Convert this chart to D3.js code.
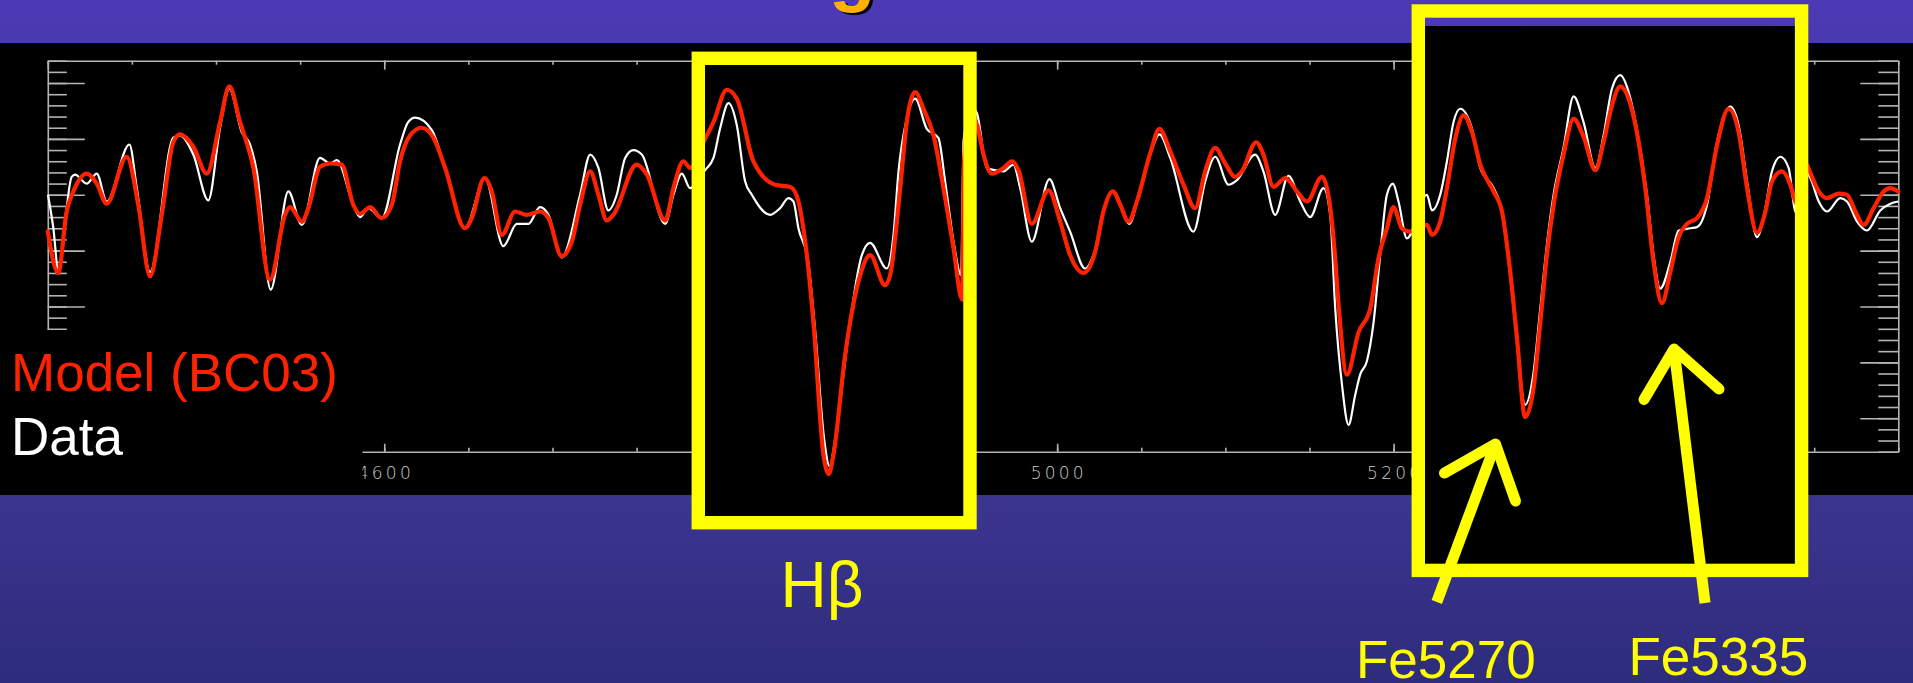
<!DOCTYPE html>
<html>
<head>
<meta charset="utf-8">
<script src="https://cdn.jsdelivr.net/npm/d3@7"></script>
<style>
  html, body { margin: 0; padding: 0; background: #2f2d7f; overflow: hidden; }
  svg { display: block; }
</style>
</head>
<body>
<svg id="slide" width="1913" height="683"></svg>
<script>
// Model spectrum (BC03): rest wavelength (Å) and normalised flux
const modelWave = [4400.0,4406.2,4411.2,4415.2,4423.1,4429.1,4435.0,4446.9,4453.8,4460.8,
  4467.7,4474.6,4478.6,4486.5,4494.5,4502.4,4507.9,4514.3,4522.2,4532.1,
  4541.0,4544.0,4551.0,4554.9,4561.8,4567.8,4574.7,4581.6,4585.6,4591.6,
  4598.5,4604.5,4609.4,4615.3,4622.3,4629.2,4636.2,4648.0,4652.0,4659.5,
  4663.9,4669.9,4677.8,4684.7,4692.6,4697.6,4705.5,4711.5,4716.4,4722.4,
  4727.3,4732.3,4736.2,4750.1,4756.1,4767.0,4771.9,4777.8,4781.8,4790.7,
  4795.7,4803.6,4809.6,4819.4,4832.3,4841.3,4845.2,4851.2,4855.1,4861.1,
  4864.2,4867.0,4874.0,4882.9,4888.8,4897.7,4900.7,4906.7,4910.6,4915.6,
  4920.5,4926.5,4932.4,4938.4,4943.5,4944.7,4948.3,4952.5,4956.2,4961.2,
  4968.1,4973.1,4977.0,4984.9,4994.9,5001.8,5007.7,5015.6,5022.6,5027.5,
  5033.1,5037.5,5042.4,5047.4,5055.3,5060.8,5067.2,5075.1,5082.0,5088.0,
  5093.9,5099.9,5105.8,5109.8,5118.3,5122.6,5128.6,5135.6,5142.5,5148.5,
  5157.4,5161.3,5164.3,5167.3,5172.2,5179.2,5186.1,5191.0,5196.0,5199.9,
  5204.9,5209.9,5219.8,5222.8,5227.7,5231.7,5236.6,5241.6,5246.6,5251.5,
  5259.4,5264.4,5269.3,5273.3,5278.2,5283.2,5287.2,5291.1,5295.1,5301.0,
  5307.0,5312.9,5319.9,5324.8,5329.8,5334.7,5339.7,5344.6,5349.6,5354.5,
  5359.5,5364.5,5369.4,5374.4,5380.3,5386.3,5392.2,5399.1,5405.1,5410.1,
  5416.0,5421.0,5424.9,5430.9,5435.8,5438.8,5441.8,5445.4,5447.3,5452.7,
  5457.6,5464.5,5469.5,5474.5,5479.4,5485.3,5491.3,5495.3,5500.0];
const modelFlux = [0.967,0.930,0.985,1.003,1.019,1.010,0.992,1.034,0.991,0.927,
  0.982,1.047,1.054,1.043,1.019,1.065,1.097,1.065,1.024,0.924,
  0.982,0.989,0.976,0.988,1.025,1.028,1.027,0.991,0.983,0.989,
  0.979,0.991,1.030,1.053,1.060,1.051,1.024,0.970,0.979,1.015,
  1.003,0.964,0.985,0.982,0.985,0.979,0.945,0.958,0.991,1.021,
  1.000,0.977,0.982,1.027,1.018,0.977,1.006,1.030,1.024,1.050,
  1.065,1.094,1.086,1.030,1.009,1.007,0.999,0.946,0.886,0.767,
  0.750,0.767,0.857,0.928,0.946,0.919,0.928,1.006,1.065,1.092,
  1.077,1.053,1.006,0.952,0.906,1.031,1.071,1.062,1.036,1.019,
  1.024,1.030,1.022,0.974,1.004,0.976,0.946,0.930,0.949,0.985,
  1.003,0.991,0.976,0.994,1.037,1.059,1.039,1.009,0.988,1.021,
  1.042,1.028,1.016,1.021,1.047,1.036,1.007,1.015,1.003,0.994,
  1.016,0.999,0.961,0.901,0.839,0.877,0.898,0.943,0.970,0.989,
  0.970,0.967,0.973,0.964,0.976,1.006,1.050,1.071,1.056,1.027,
  1.003,0.985,0.931,0.872,0.801,0.827,0.886,0.946,0.991,1.036,
  1.068,1.052,1.022,1.047,1.080,1.097,1.086,1.056,1.006,0.940,
  0.903,0.931,0.962,0.974,0.979,0.997,1.044,1.077,1.056,1.006,
  0.966,0.985,1.012,1.021,1.009,0.994,0.989,1.027,1.021,1.003,
  0.997,1.001,1.000,0.985,0.973,0.988,1.003,1.006,1.003];

// Observed spectrum: rest wavelength (Å) and normalised flux
const dataWave = [4400.1,4403.3,4406.2,4414.2,4416.2,4423.1,4429.1,4435.0,4448.5,4452.9,
  4460.8,4474.6,4478.6,4486.5,4495.4,4502.4,4507.9,4515.3,4520.2,4524.2,
  4532.5,4543.0,4551.0,4561.8,4567.8,4571.8,4581.6,4585.6,4590.5,4598.5,
  4609.4,4614.2,4618.3,4628.2,4636.2,4648.0,4659.9,4670.8,4678.8,4685.7,
  4692.6,4697.6,4705.5,4716.4,4722.4,4727.3,4733.2,4738.2,4743.2,4748.1,
  4753.1,4767.0,4771.9,4776.9,4781.8,4790.7,4795.7,4799.6,4804.6,4809.6,
  4814.5,4818.5,4829.4,4835.3,4840.3,4843.2,4846.2,4852.0,4856.1,4861.5,
  4864.7,4868.0,4872.0,4874.9,4883.9,4888.8,4898.7,4902.7,4905.7,4910.6,
  4915.6,4922.5,4929.4,4933.4,4938.4,4942.9,4944.4,4949.5,4952.3,4958.2,
  4963.2,4968.1,4974.0,4978.0,4984.9,4995.4,5001.8,5007.7,5016.6,5022.6,
  5028.5,5033.5,5042.9,5049.0,5055.3,5060.8,5067.2,5081.0,5088.0,5093.9,
  5101.9,5106.8,5117.7,5122.6,5129.6,5137.5,5144.5,5150.4,5158.3,5162.3,
  5165.3,5169.3,5173.2,5177.2,5180.1,5184.1,5188.1,5192.0,5196.0,5199.6,
  5202.9,5207.9,5219.8,5222.8,5227.7,5231.7,5235.6,5239.6,5246.6,5251.5,
  5259.4,5264.4,5268.7,5272.9,5278.2,5283.0,5287.1,5291.1,5295.1,5301.0,
  5307.0,5312.9,5319.9,5324.8,5329.8,5334.7,5339.7,5344.6,5350.6,5354.5,
  5358.5,5364.5,5369.4,5376.4,5380.3,5386.3,5392.2,5400.1,5405.1,5410.1,
  5416.0,5421.0,5424.9,5429.9,5434.8,5438.8,5441.8,5445.4,5447.7,5452.7,
  5457.6,5465.5,5469.5,5475.5,5481.4,5489.3,5495.3,5500.0];
const dataFlux = [1.000,0.970,0.933,1.016,1.018,1.010,1.019,0.994,1.045,1.006,
  0.931,1.051,1.053,1.036,0.995,1.060,1.095,1.056,1.045,1.021,
  0.915,1.003,0.973,1.033,1.028,1.031,0.991,0.980,0.988,0.979,
  1.045,1.065,1.069,1.058,1.024,0.970,1.015,0.954,0.974,0.974,
  0.989,0.982,0.944,1.000,1.036,1.024,0.986,1.000,1.033,1.040,
  1.036,0.974,1.000,1.019,1.006,1.022,1.033,1.059,1.082,1.062,
  1.012,1.000,0.982,0.988,0.997,0.994,0.970,0.940,0.879,0.781,
  0.757,0.781,0.827,0.863,0.946,0.957,0.934,0.964,1.021,1.068,
  1.086,1.059,1.051,1.012,0.958,0.928,1.049,1.078,1.073,1.024,
  1.022,1.021,1.027,1.006,0.958,1.014,0.988,0.967,0.934,0.951,
  0.991,1.003,0.974,1.003,1.036,1.054,1.033,0.967,1.012,1.034,
  1.009,1.013,1.036,1.021,0.982,1.017,0.994,0.980,1.006,0.982,
  0.898,0.830,0.794,0.821,0.839,0.851,0.886,0.946,1.000,1.010,
  0.994,0.961,1.000,0.986,1.000,1.030,1.065,1.077,1.059,1.024,
  1.006,0.985,0.937,0.875,0.812,0.839,0.897,0.955,1.000,1.042,
  1.088,1.065,1.024,1.053,1.095,1.107,1.092,1.059,1.000,0.946,
  0.916,0.940,0.968,0.970,0.971,0.991,1.047,1.079,1.062,1.012,
  0.962,0.988,1.021,1.034,1.024,0.985,0.982,1.020,1.015,0.994,
  0.985,0.997,0.994,0.976,0.968,0.986,0.992,0.994];

// Wavelength ticks (Å) and flux ticks
const xMinorTicks = d3.range(4400, 5501, 50);
const xMajorTicks = [4400, 4600, 4800, 5000, 5200, 5400];
const yMinorTicks = d3.range(77, 113).map(v => v / 100);
const yMajorTicks = [0.80, 0.85, 0.90, 0.95, 1.00, 1.05, 1.10];

// Legend and annotation text
const legendLabels = ["Model (BC03)", "Data"];
const lineLabels = ["H\u03B2", "Fe5270", "Fe5335"];

// ---------- drawing ----------
const W = 1913, H = 683;
const svg = d3.select("#slide");
const defs = svg.append("defs");

const bg = defs.append("linearGradient").attr("id", "bg")
  .attr("x1", 0).attr("y1", 0).attr("x2", 0).attr("y2", 1);
bg.append("stop").attr("offset", 0).attr("stop-color", "#4b3ab4");
bg.append("stop").attr("offset", 0.725).attr("stop-color", "#3b3590");
bg.append("stop").attr("offset", 1).attr("stop-color", "#2e2c7c");
svg.append("rect").attr("width", W).attr("height", H).attr("fill", "url(#bg)");

// tail of the slide title, cut by the top edge
const title = svg.append("g")
  .attr("font-family", "'Liberation Sans', Arial, sans-serif")
  .attr("font-weight", "bold").attr("font-size", 76);
title.append("text").attr("x", 832).attr("y", -1).attr("fill", "#000").text("g");
title.append("text").attr("x", 829).attr("y", -3).attr("fill", "#ffb000").text("g");

// black plot panel
svg.append("rect").attr("x", 0).attr("y", 43).attr("width", W).attr("height", 452).attr("fill", "#000");

const x = d3.scaleLinear().domain([4400, 5500]).range([47.8, 1898.3]);
const y = d3.scaleLinear().domain([0.77, 1.12]).range([451.7, 60.7]);
const X0 = x.range()[0], X1 = x.range()[1];
const Y0 = y.range()[1], Y1 = y.range()[0];

const axisColor = "#b4b4b4";
function styleAxis(g, showDomain) {
  g.selectAll("line").attr("stroke", axisColor).attr("stroke-width", 1.6);
  g.select(".domain").attr("stroke", showDomain ? axisColor : "none").attr("stroke-width", 1.6);
  g.selectAll("text").remove();
}
const axes = svg.append("g");
// top
axes.append("g").attr("transform", `translate(0,${Y0})`)
  .call(d3.axisTop(x).tickValues(xMinorTicks).tickSizeInner(-4).tickSizeOuter(0)).call(g => styleAxis(g, true));
axes.append("g").attr("transform", `translate(0,${Y0})`)
  .call(d3.axisTop(x).tickValues(xMajorTicks).tickSizeInner(-9).tickSizeOuter(0)).call(g => styleAxis(g, false));
// bottom
axes.append("g").attr("transform", `translate(0,${Y1})`)
  .call(d3.axisBottom(x).tickValues(xMinorTicks).tickSizeInner(-4).tickSizeOuter(0)).call(g => styleAxis(g, true));
axes.append("g").attr("transform", `translate(0,${Y1})`)
  .call(d3.axisBottom(x).tickValues(xMajorTicks).tickSizeInner(-8).tickSizeOuter(0)).call(g => styleAxis(g, false));
// left
axes.append("g").attr("transform", `translate(${X0},0)`)
  .call(d3.axisLeft(y).tickValues(yMinorTicks).tickSizeInner(-19).tickSizeOuter(0)).call(g => styleAxis(g, true));
axes.append("g").attr("transform", `translate(${X0},0)`)
  .call(d3.axisLeft(y).tickValues(yMajorTicks).tickSizeInner(-37).tickSizeOuter(0)).call(g => styleAxis(g, false));
// right
axes.append("g").attr("transform", `translate(${X1},0)`)
  .call(d3.axisRight(y).tickValues(yMinorTicks).tickSizeInner(-20).tickSizeOuter(0)).call(g => styleAxis(g, true));
axes.append("g").attr("transform", `translate(${X1},0)`)
  .call(d3.axisRight(y).tickValues(yMajorTicks).tickSizeInner(-38).tickSizeOuter(0)).call(g => styleAxis(g, false));

// wavelength labels
axes.selectAll("text.xlab").data(xMajorTicks).join("text")
  .attr("class", "xlab")
  .attr("x", d => x(d)).attr("y", Y1 + 27)
  .attr("text-anchor", "middle")
  .attr("font-family", "'DejaVu Sans', sans-serif")
  .attr("font-weight", 200)
  .attr("font-size", 17)
  .attr("textLength", 53).attr("lengthAdjust", "spacing")
  .attr("fill", "#c8c8c8")
  .text(d => d3.format("d")(d));

// legend block (covers the lower-left corner of the frame)
svg.append("rect").attr("x", 0).attr("y", 330).attr("width", 362.5).attr("height", 165).attr("fill", "#000");
const legend = svg.append("g").attr("font-family", "'Liberation Sans', Arial, sans-serif").attr("font-size", 53);
legend.append("text").attr("x", 11).attr("y", 390.7).attr("fill", "#ff2200").text(legendLabels[0]);
legend.append("text").attr("x", 11).attr("y", 455).attr("fill", "#ffffff").text(legendLabels[1]);

// highlight boxes: black interiors
const hbBox = { x0: 698.3, y0: 58.3, x1: 970.0, y1: 522.7 };
const feBox = { x0: 1418.3, y0: 11.0, x1: 1801.6, y1: 570.4 };
const boxW = 13.4;
svg.append("rect").attr("x", hbBox.x0).attr("y", hbBox.y0)
  .attr("width", hbBox.x1 - hbBox.x0).attr("height", hbBox.y1 - hbBox.y0).attr("fill", "#000");
svg.append("rect").attr("x", feBox.x0).attr("y", 26)
  .attr("width", feBox.x1 - feBox.x0).attr("height", feBox.y1 - 26).attr("fill", "#000");

// spectra
const line = d3.line().x(d => x(d[0])).y(d => y(d[1])).curve(d3.curveMonotoneX);
const dataPts = d3.zip(dataWave, dataFlux);
const modelPts = d3.zip(modelWave, modelFlux);
svg.append("path").datum(dataPts).attr("d", line)
  .attr("fill", "none").attr("stroke", "#ffffff").attr("stroke-width", 2.2)
  .attr("stroke-linejoin", "round");
svg.append("path").datum(modelPts).attr("d", line)
  .attr("fill", "none").attr("stroke", "#ff2200").attr("stroke-width", 4.2)
  .attr("stroke-linejoin", "round").attr("stroke-linecap", "round");

// highlight boxes: yellow frames
[hbBox, feBox].forEach(b => {
  svg.append("rect").attr("x", b.x0).attr("y", b.y0)
    .attr("width", b.x1 - b.x0).attr("height", b.y1 - b.y0)
    .attr("fill", "none").attr("stroke", "#ffff00").attr("stroke-width", boxW);
});

// arrows pointing at the iron features
const arrows = [
  { tail: [1436.8, 602], tip: [1495.5, 444], barbs: [[1444.5, 473], [1515.5, 501]] },
  { tail: [1705, 603], tip: [1674, 349], barbs: [[1644, 399.5], [1719, 389]] }
];
const ag = svg.append("g").attr("stroke", "#ffff00").attr("stroke-width", 11).attr("fill", "none");
arrows.forEach(a => {
  ag.append("line").attr("x1", a.tail[0]).attr("y1", a.tail[1]).attr("x2", a.tip[0]).attr("y2", a.tip[1])
    .attr("stroke-linecap", "butt");
  ag.append("path")
    .attr("d", `M${a.barbs[0][0]},${a.barbs[0][1]}L${a.tip[0]},${a.tip[1]}L${a.barbs[1][0]},${a.barbs[1][1]}`)
    .attr("stroke-linecap", "round").attr("stroke-linejoin", "round");
});

// feature labels
const lab = svg.append("g").attr("font-family", "'Liberation Sans', Arial, sans-serif").attr("fill", "#ffff00");
lab.append("text").attr("x", 780.5).attr("y", 606.7).attr("font-size", 64).text(lineLabels[0]);
lab.append("text").attr("x", 1356).attr("y", 678).attr("font-size", 53).text(lineLabels[1]);
lab.append("text").attr("x", 1628.5).attr("y", 675).attr("font-size", 53).text(lineLabels[2]);
</script>
</body>
</html>
